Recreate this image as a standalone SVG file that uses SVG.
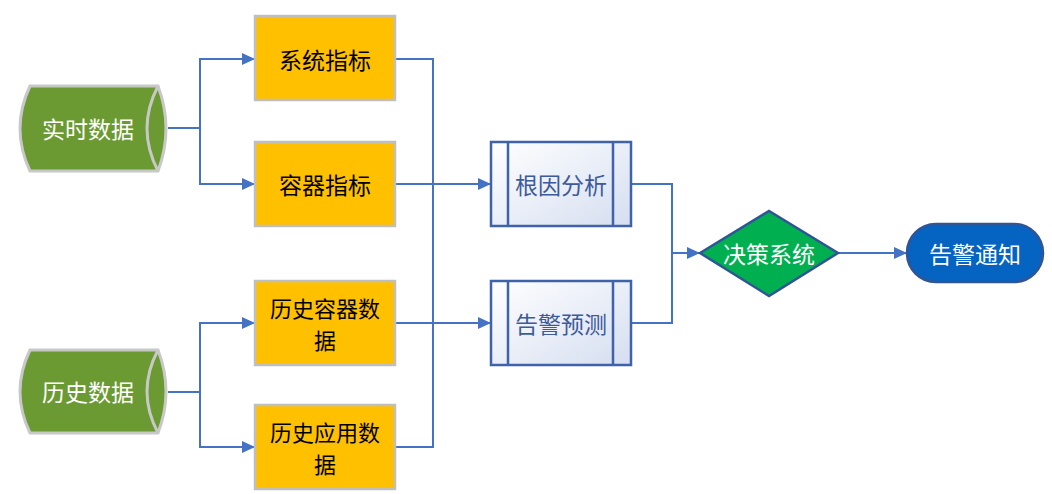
<svg xmlns="http://www.w3.org/2000/svg" width="1052" height="494" viewBox="0 0 1052 494">
<style>
text{font-family:"Noto Sans CJK SC","Microsoft YaHei",sans-serif;font-size:23px;text-anchor:middle;dominant-baseline:central}
text.two{font-size:22px}
.cyl{fill:#6B9A33;stroke:#C8C8C8;stroke-width:3}
.cylin{fill:none;stroke:#C8C8C8;stroke-width:3}
.box{fill:#FFC000;stroke:#BFBFBF;stroke-width:2.5}
.proc{fill:url(#pg);stroke:#3F62AA;stroke-width:2.5}
.conn{fill:none;stroke:#4472C4;stroke-width:2}
.w{fill:#FFFFFF}
.k{fill:#000000}
.b{fill:#3D5A9C}
</style>
<defs>
<linearGradient id="pg" x1="0" y1="0" x2="1" y2="1">
<stop offset="0" stop-color="#FFFFFF"/>
<stop offset="1" stop-color="#D5DEF0"/>
</linearGradient>
<marker id="ar" viewBox="0 0 13 12" refX="13" refY="6" markerWidth="13" markerHeight="12" markerUnits="userSpaceOnUse" orient="auto">
<path d="M0,0 L13,6 L0,12 Z" fill="#4472C4"/>
</marker>
</defs>
<g id="connectors">
<path class="conn" d="M168,128 H200 V59 H255" marker-end="url(#ar)"/>
<path class="conn" d="M200,128 V184 H255" marker-end="url(#ar)"/>
<path class="conn" d="M168,392 H200 V323 H255" marker-end="url(#ar)"/>
<path class="conn" d="M200,392 V447 H255" marker-end="url(#ar)"/>
<path class="conn" d="M395,59 H433 V447 H395"/>
<path class="conn" d="M395,184 H491" marker-end="url(#ar)"/>
<path class="conn" d="M395,323 H491" marker-end="url(#ar)"/>
<path class="conn" d="M631,184 H672 V323 H631"/>
<path class="conn" d="M672,253 H700" marker-end="url(#ar)"/>
<path class="conn" d="M838,253 H907" marker-end="url(#ar)"/>
</g>
<g id="n-realtime">
<path class="cyl" d="M30,86 L158,86 Q174,128.5 158,171 L30,171 Q10,128.5 30,86 Z"/>
<path class="cylin" d="M158,86 Q136,128.5 158,171"/>
<text class="w" x="88" y="128">实时数据</text>
</g>
<g id="n-history">
<path class="cyl" d="M30,350 L158,350 Q174,391.5 158,433 L30,433 Q10,391.5 30,350 Z"/>
<path class="cylin" d="M158,350 Q136,391.5 158,433"/>
<text class="w" x="88" y="391">历史数据</text>
</g>
<g id="n-sys">
<rect class="box" x="255" y="16" width="140" height="84"/>
<text class="k" x="325" y="59">系统指标</text>
</g>
<g id="n-container">
<rect class="box" x="255" y="142" width="140" height="84"/>
<text class="k" x="325" y="184">容器指标</text>
</g>
<g id="n-hcontainer">
<rect class="box" x="255" y="281" width="140" height="84"/>
<text class="k two" x="325" y="307">历史容器数<tspan x="325" dy="32">据</tspan></text>
</g>
<g id="n-happ">
<rect class="box" x="255" y="405" width="140" height="84"/>
<text class="k two" x="325" y="431">历史应用数<tspan x="325" dy="32">据</tspan></text>
</g>
<g id="n-rca">
<rect class="proc" x="491" y="142" width="140" height="84"/>
<line class="proc" x1="508" y1="142" x2="508" y2="226"/>
<line class="proc" x1="613" y1="142" x2="613" y2="226"/>
<text class="b" x="561" y="184">根因分析</text>
</g>
<g id="n-predict">
<rect class="proc" x="491" y="281" width="140" height="84"/>
<line class="proc" x1="508" y1="281" x2="508" y2="365"/>
<line class="proc" x1="613" y1="281" x2="613" y2="365"/>
<text class="b" x="561" y="323">告警预测</text>
</g>
<g id="n-decision">
<path d="M700,253 L769,211 L838,253 L769,296 Z" fill="#00B050" stroke="#2F5597" stroke-width="2.5"/>
<text class="w" x="769" y="253">决策系统</text>
</g>
<g id="n-notify">
<rect x="907" y="224" width="136" height="58" rx="29" ry="29" fill="#0563C1" stroke="#2F5597" stroke-width="2.5"/>
<text class="w" x="975" y="253">告警通知</text>
</g>
</svg>
